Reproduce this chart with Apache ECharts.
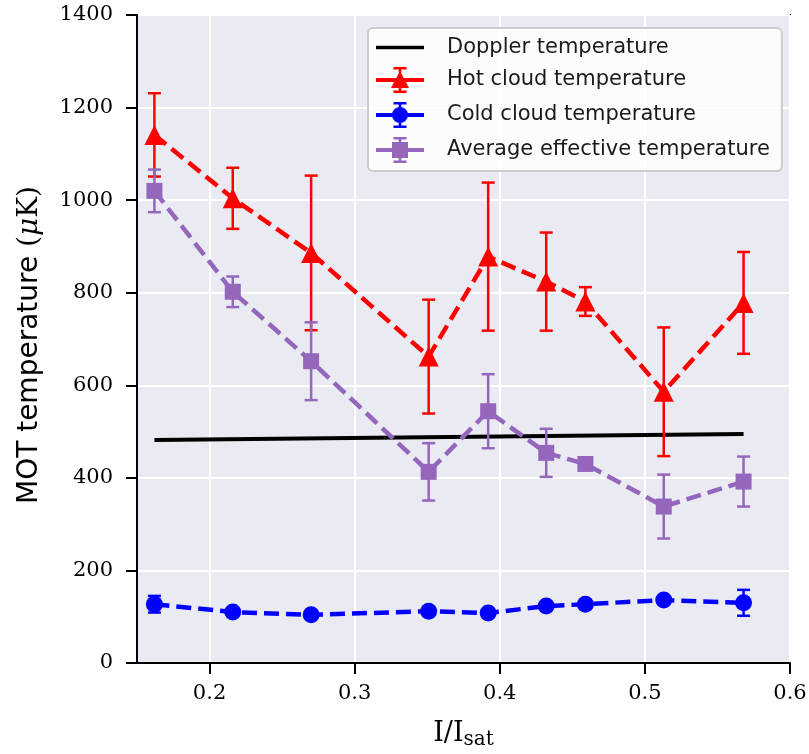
<!DOCTYPE html>
<html>
<head>
<meta charset="utf-8">
<script src="https://cdn.jsdelivr.net/npm/echarts@6/dist/echarts.min.js"></script>
<style>
  html, body { margin: 0; padding: 0; background: #ffffff; }
  #chart { width: 809px; height: 754px; }
</style>
</head>
<body>
<div id="chart"></div>
<script>
// Normalised intensity I/I_sat of each measurement
const intensity = [0.162, 0.216, 0.270, 0.351, 0.392, 0.432, 0.459, 0.513, 0.568];

// Hot cloud temperature (µK) and its error
const hotT   = [1141, 1004, 886, 662, 878, 824, 781, 586, 778];
const hotErr = [90, 66, 167, 123, 160, 106, 31, 139, 110];

// Cold cloud temperature (µK) and its error
const coldT   = [127, 110, 104, 112, 108, 123, 127, 136, 130];
const coldErr = [18, 6, 5, 6, 6, 7, 6, 7, 28];

// Average effective temperature (µK) and its error
const avgT   = [1020, 802, 652, 413, 544, 454, 430, 338, 392];
const avgErr = [46, 33, 84, 62, 80, 52, 6, 69, 54];

// Doppler temperature line (µK)
const dopplerX = [0.162, 0.568];
const dopplerT = [482, 495];

// Axis ticks
const xTicks = [0.2, 0.3, 0.4, 0.5, 0.6];
const yMin = 0, yMax = 1400, yStep = 200;

const names = [
  'Doppler temperature',
  'Hot cloud temperature',
  'Cold cloud temperature',
  'Average effective temperature'
];
const colors = ['#000000', '#ff0000', '#0000ff', '#9467bd'];

// Legend glyphs: line + error bar + marker (all sub-paths wound clockwise)
const barPart = 'M0 11 H48 V15 H0 Z M22.7 1 H25.3 V25 H22.7 Z M17.5 0 H30.5 V2.6 H17.5 Z M17.5 23.4 H30.5 V26 H17.5 Z ';
const icons = [
  'path://M0 11 H52 V15 H0 Z',
  'path://' + barPart + 'M24 4 L33 21 L15 21 Z',
  'path://' + barPart + 'M16 13 A8 8 0 1 1 32 13 A8 8 0 1 1 16 13 Z',
  'path://' + barPart + 'M16 5 H32 V21 H16 Z'
];

function pairs(xs, ys) {
  return xs.map((x, i) => [x, ys[i]]);
}

function lineSeries(idx, ys, symbol, size, width, z) {
  return {
    type: 'line',
    name: names[idx],
    data: pairs(intensity, ys),
    symbol: symbol,
    symbolSize: size,
    showSymbol: true,
    z: z,
    lineStyle: { color: colors[idx], width: width, type: [15, 7] },
    itemStyle: { color: colors[idx], borderWidth: 0 },
    emphasis: { disabled: true }
  };
}

function errorSeries(idx, ys, errs, z) {
  const color = colors[idx];
  return {
    type: 'custom',
    name: names[idx],
    z: z,
    data: intensity.map((x, i) => [x, ys[i] - errs[i], ys[i] + errs[i]]),
    encode: { x: 0, y: [1, 2] },
    renderItem: function (params, api) {
      const lo = api.coord([api.value(0), api.value(1)]);
      const hi = api.coord([api.value(0), api.value(2)]);
      const half = 6.5;
      const style = { stroke: color, lineWidth: 2.5, fill: null };
      return {
        type: 'group',
        children: [
          { type: 'line', shape: { x1: lo[0], y1: lo[1], x2: hi[0], y2: hi[1] }, style: style },
          { type: 'line', shape: { x1: lo[0] - half, y1: lo[1], x2: lo[0] + half, y2: lo[1] }, style: style },
          { type: 'line', shape: { x1: hi[0] - half, y1: hi[1], x2: hi[0] + half, y2: hi[1] }, style: style }
        ]
      };
    }
  };
}

const chart = echarts.init(document.getElementById('chart'), null, { renderer: 'canvas' });

const tickLabelFont = { fontFamily: 'DejaVu Serif', fontSize: 21, color: '#000' };

chart.setOption({
  animation: false,
  backgroundColor: '#ffffff',
  grid: {
    left: 137, right: 19, top: 15, bottom: 91,
    outerBoundsMode: 'none',
    show: true,
    backgroundColor: '#eaeaf2',
    borderColor: '#000000',
    borderWidth: 2
  },
  legend: {
    orient: 'vertical',
    left: 368, top: 28,
    padding: [9, 12, 8, 8],
    itemWidth: 48,
    itemHeight: 26,
    itemGap: 9,
    backgroundColor: 'rgba(255,255,255,0.85)',
    borderColor: '#cccccc',
    borderWidth: 2,
    borderRadius: 5,
    selectedMode: false,
    itemStyle: { borderWidth: 0 },
    textStyle: { fontFamily: 'DejaVu Sans', fontSize: 21, color: '#1a1a1a', padding: [0, 0, 0, 18] },
    data: names.map((n, i) => ({ name: n, icon: icons[i] }))
  },
  xAxis: {
    type: 'value',
    min: 0.15, max: 0.6,
    name: '{i|I/I}{s|sat}',
    nameLocation: 'middle',
    nameGap: 55,
    nameTextStyle: {
      rich: {
        i: { fontFamily: 'DejaVu Serif', fontSize: 27, color: '#000' },
        s: { fontFamily: 'DejaVu Serif', fontSize: 20, color: '#000', padding: [12, 0, 0, 0] }
      }
    },
    axisLine: { show: true, onZero: false, lineStyle: { color: '#000', width: 2 } },
    axisTick: { show: true, length: 11, customValues: xTicks, lineStyle: { color: '#000', width: 2 } },
    axisLabel: Object.assign({ customValues: xTicks, margin: 20, formatter: v => v.toFixed(1) }, tickLabelFont),
    splitLine: { show: true, lineStyle: { color: '#ffffff', width: 2 } }
  },
  yAxis: {
    type: 'value',
    min: yMin, max: yMax, interval: yStep,
    name: '{a|MOT temperature }{p|(}{m|μ}{p|K)}',
    nameLocation: 'middle',
    nameGap: 93,
    nameRotate: 90,
    nameTextStyle: {
      padding: [0, 12, 0, 0],
      rich: {
        a: { fontFamily: 'DejaVu Sans', fontSize: 28, color: '#000' },
        p: { fontFamily: 'DejaVu Serif', fontSize: 28, color: '#000' },
        m: { fontFamily: 'DejaVu Serif', fontStyle: 'italic', fontSize: 28, color: '#000' }
      }
    },
    axisLine: { show: true, lineStyle: { color: '#000', width: 2 } },
    axisTick: { show: true, length: 11, lineStyle: { color: '#000', width: 2 } },
    axisLabel: Object.assign({ margin: 24, formatter: v => String(v) }, tickLabelFont),
    splitLine: { show: true, lineStyle: { color: '#ffffff', width: 2 } }
  },
  series: [
    {
      type: 'line',
      name: names[0],
      data: pairs(dopplerX, dopplerT),
      symbol: 'none',
      z: 2,
      lineStyle: { color: colors[0], width: 4 },
      itemStyle: { color: colors[0] },
      emphasis: { disabled: true }
    },
    lineSeries(1, hotT, 'triangle', 20, 4.5, 4),
    lineSeries(2, coldT, 'circle', 17, 4.5, 6),
    lineSeries(3, avgT, 'rect', 16, 4.5, 8),
    errorSeries(1, hotT, hotErr, 3),
    errorSeries(2, coldT, coldErr, 5),
    errorSeries(3, avgT, avgErr, 7)
  ]
});
</script>
</body>
</html>
